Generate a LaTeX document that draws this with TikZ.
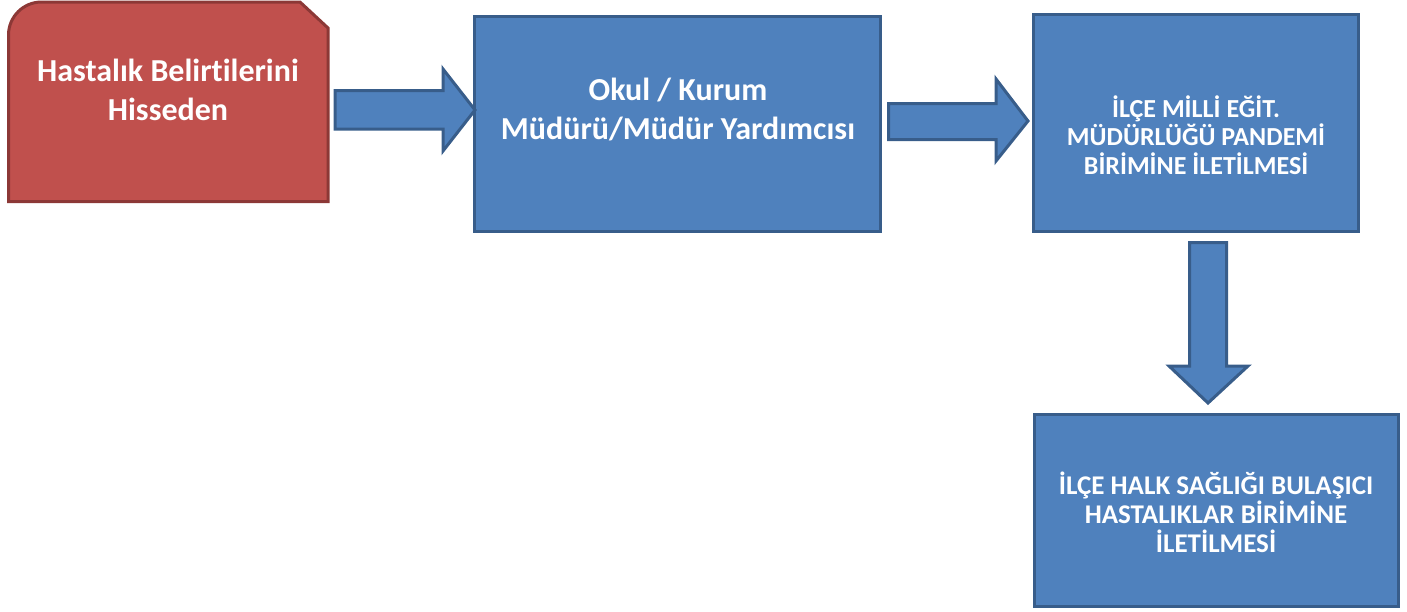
\documentclass[tikz,border=0pt]{standalone}
\usepackage{fontspec}
\setmainfont{Carlito}[Ligatures={NoCommon}]
\definecolor{kutumavi}{HTML}{4F81BD}
\definecolor{kutukenar}{HTML}{385D8A}
\definecolor{kirmizi}{HTML}{C0504D}
\definecolor{kirmizikenar}{HTML}{8C3836}
\begin{document}
\begin{tikzpicture}[x=1pt, y=-1pt, kutu/.style={rectangle,draw=kutukenar,fill=kutumavi,line width=3pt,inner sep=0pt}, ok/.style={draw=kutukenar,fill=kutumavi,line width=3pt,line join=miter}, yazi/.style={text=white,font=\bfseries,align=center,inner sep=0pt}]
      \useasboundingbox (0,0) rectangle (1407,611);

      % red start shape (one round and one snipped corner)
      \draw[draw=kirmizikenar,fill=kirmizi,line width=3pt] (8.5,201.5) -- (8.5,35) arc[start angle=180, end angle=270, radius=33] -- (300,2) -- (328,28) -- (328,201.5) -- cycle;
      \node[yazi,font=\bfseries\fontsize{32}{39}\selectfont] (belirti) at (168, 90) {Hastalık Belirtilerini\\Hisseden};

      \node[kutu, minimum width=406pt, minimum height=215pt] (mudur) at (677.5, 124) {};
      \node[kutu, minimum width=325pt, minimum height=217pt] (meb) at (1196, 123) {};
      \node[kutu, minimum width=364pt, minimum height=192pt] (saglik) at (1216.5, 510.5) {};

      \node[yazi,font=\bfseries\fontsize{32}{39}\selectfont] (mudurtxt) at (678, 109) {Okul / Kurum\\Müdürü/Müdür Yardımcısı};
      \node[yazi,font=\bfseries\fontsize{26}{28.5}\selectfont] (mebtxt) at (1196, 135) {İLÇE MİLLİ EĞİT.\\MÜDÜRLÜĞÜ PANDEMİ\\BİRİMİNE İLETİLMESİ};
      \node[yazi,font=\bfseries\fontsize{27}{29}\selectfont] (sagliktxt) at (1216, 512.5) {İLÇE HALK SAĞLIĞI BULAŞICI\\HASTALIKLAR BİRİMİNE\\İLETİLMESİ};

      % block arrows
      \draw[ok] (335,90.5) -- (443,90.5) -- (443,69) -- (475,110) -- (443,151) -- (443,129) -- (335,129) -- cycle;
      \draw[ok] (888.5,103.5) -- (996,103.5) -- (996,79) -- (1028,121) -- (996,161) -- (996,139.5) -- (888.5,139.5) -- cycle;
      \draw[ok] (1189.5,242.5) -- (1189.5,366) -- (1169,366) -- (1208,403) -- (1248,366) -- (1226.5,366) -- (1226.5,242.5) -- cycle;
    \end{tikzpicture}
\end{document}
